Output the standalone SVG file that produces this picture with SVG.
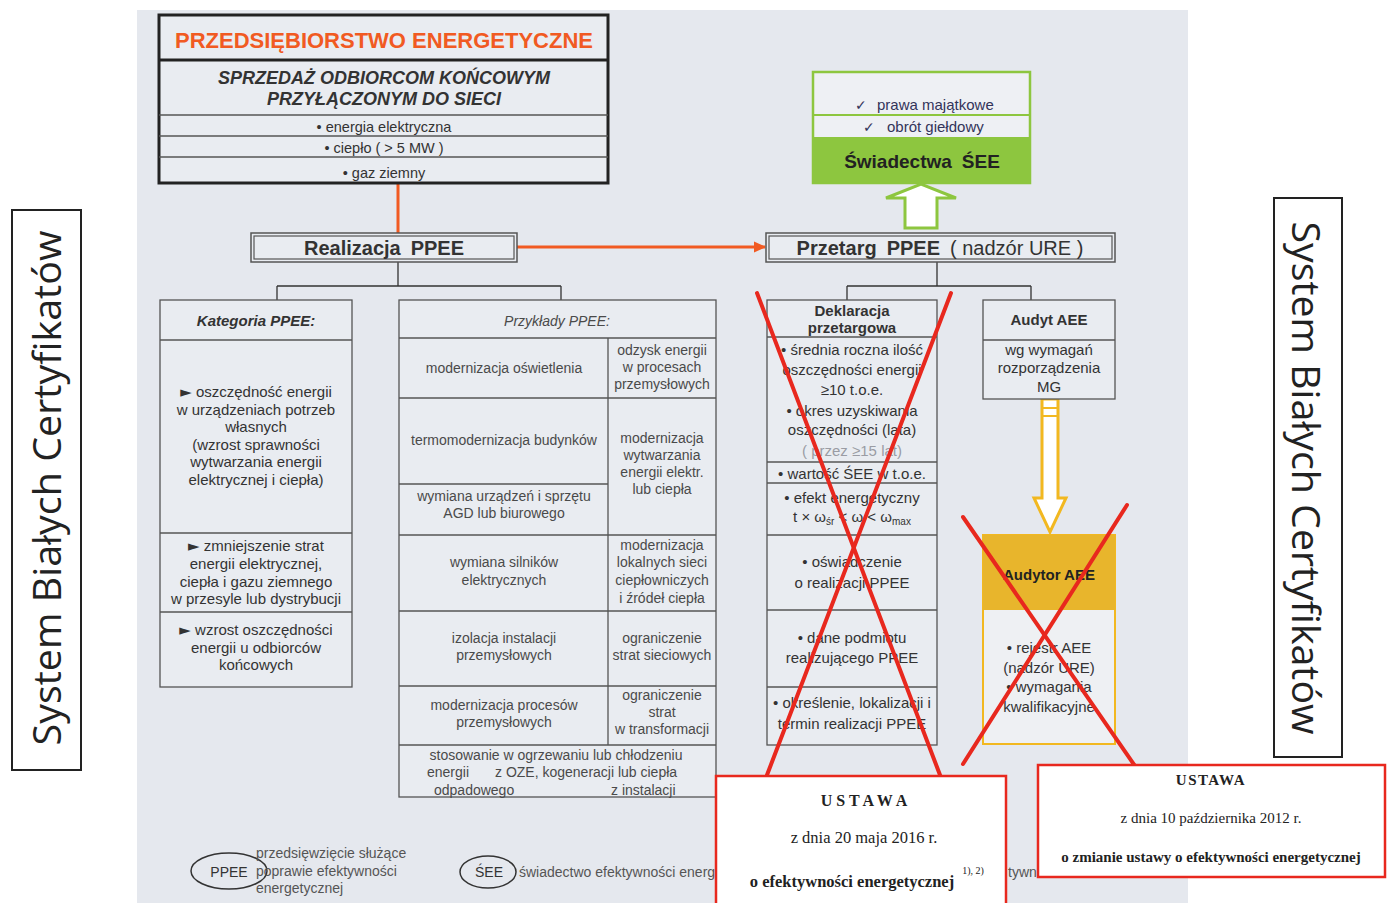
<svg xmlns="http://www.w3.org/2000/svg" width="1387" height="903" viewBox="0 0 1387 903">
<defs>
<style>
.t{font-family:"Liberation Sans",Arial,sans-serif;fill:#333;text-anchor:middle}
.s{font-size:14px;fill:#4a4a4a}
.k{font-size:15px;fill:#333}
.b{font-weight:bold}
.i{font-style:italic}
.cell{fill:#e9ecf1;stroke:#555;stroke-width:1.3}
.ln{stroke:#555;stroke-width:1.3;fill:none}
.tree{stroke:#333;stroke-width:1.3;fill:none}
.serif{font-family:"Liberation Serif","Times New Roman",serif;fill:#222;text-anchor:middle}
.red{stroke:#e8281e;stroke-width:4;stroke-linecap:round;fill:none}
.vert{font-family:"Open Sans","Liberation Sans",sans-serif;font-size:38px;fill:#222;text-anchor:middle}
.law{fill:#fff;stroke:#e8281e;stroke-width:2.5}
.tri{font-family:"DejaVu Sans",sans-serif;font-size:15px}
</style>
<marker id="ah" markerWidth="12" markerHeight="12" refX="11" refY="6" orient="auto" markerUnits="userSpaceOnUse"><path d="M0,0.5 L12,6 L0,11.5 z" fill="#f15a22"/></marker>
</defs>

<rect x="0" y="0" width="1387" height="903" fill="#ffffff"/>
<rect x="137" y="10" width="1051" height="893" fill="#e5e8ee"/>

<g id="label-left">
<rect x="12" y="210" width="69" height="560" fill="#fff" stroke="#222" stroke-width="2"/>
<text class="vert" transform="translate(61,488) rotate(-90)" textLength="515" lengthAdjust="spacingAndGlyphs">System Białych Certyfikatów</text>
</g>
<g id="label-right">
<rect x="1274" y="198" width="68" height="559" fill="#fff" stroke="#222" stroke-width="2"/>
<text class="vert" transform="translate(1292,478) rotate(90)" textLength="513" lengthAdjust="spacingAndGlyphs">System Białych Certyfikatów</text>
</g>

<g id="connectors">
<line x1="398" y1="183" x2="398" y2="233" stroke="#f15a22" stroke-width="3"/>
<line x1="517" y1="247" x2="765" y2="247" stroke="#f15a22" stroke-width="3" marker-end="url(#ah)"/>
<path class="tree" d="M398,262 V286 M277,286 H561 M277,286 V300 M561,286 V300"/>
<path class="tree" d="M937,262 V286 M847,286 H1031 M847,286 V300 M1031,286 V300"/>
<polygon points="905,228 905,198 886,198 921,184 956,198 937,198 937,228" fill="#fff" stroke="#8dc63f" stroke-width="3"/>
<polygon points="1042,399 1058,399 1058,498 1066,498 1050,532 1034,498 1042,498" fill="#fff" stroke="#f2b820" stroke-width="3"/>
<path d="M1042,408 H1058 M1042,416 H1058" stroke="#f2b820" stroke-width="2"/>
</g>

<g id="header">
<rect x="159" y="15" width="449" height="168" fill="#e9ecf1" stroke="#222" stroke-width="3"/>
<line x1="159" y1="60" x2="608" y2="60" stroke="#222" stroke-width="3"/>
<path class="ln" d="M159,115 H608 M159,136 H608 M159,157 H608" stroke="#333"/>
<text class="t b" x="384" y="48" font-size="22" style="fill:#f15a22">PRZEDSIĘBIORSTWO  ENERGETYCZNE</text>
<text class="t b i" x="384" y="84" font-size="18">SPRZEDAŻ ODBIORCOM KOŃCOWYM</text>
<text class="t b i" x="384" y="105" font-size="18">PRZYŁĄCZONYM DO SIECI</text>
<text class="t" x="384" y="132" font-size="14.5">• energia elektryczna</text>
<text class="t" x="384" y="153" font-size="14.5">• ciepło ( &gt; 5 MW )</text>
<text class="t" x="384" y="178" font-size="14.5">• gaz ziemny</text>
</g>

<g id="realizacja">
<rect x="251" y="233" width="266" height="29" fill="#e9ecf1" stroke="#555" stroke-width="1.5"/>
<rect x="254" y="236" width="260" height="23" fill="none" stroke="#555" stroke-width="1.2"/>
<text class="t b" x="384" y="255" font-size="20">Realizacja<tspan dx="10">PPEE</tspan></text>
</g>

<g id="przetarg">
<rect x="766" y="233" width="349" height="29" fill="#e9ecf1" stroke="#555" stroke-width="1.5"/>
<rect x="769" y="236" width="343" height="23" fill="none" stroke="#555" stroke-width="1.2"/>
<text class="t" x="940" y="255" font-size="20"><tspan font-weight="bold">Przetarg</tspan><tspan dx="10" font-weight="bold">PPEE</tspan><tspan dx="10">( nadzór URE )</tspan></text>
</g>

<g id="swiadectwa">
<rect x="813" y="72" width="217" height="111" fill="#eef0f4" stroke="#8dc63f" stroke-width="2.5"/>
<line x1="813" y1="115" x2="1030" y2="115" stroke="#8dc63f" stroke-width="2"/>
<rect x="813" y="137" width="217" height="46" fill="#8dc63f"/>
<text class="t" x="855" y="110" font-size="15" style="text-anchor:start;fill:#33345a"><tspan font-family="DejaVu Sans" font-size="14">✓</tspan><tspan x="877">prawa majątkowe</tspan></text>
<text class="t" x="863" y="132" font-size="15" style="text-anchor:start;fill:#33345a"><tspan font-family="DejaVu Sans" font-size="14">✓</tspan><tspan x="887">obrót giełdowy</tspan></text>
<text class="t b" x="922" y="168" font-size="19" style="fill:#222">Świadectwa<tspan dx="10">ŚEE</tspan></text>
</g>

<g id="kategoria">
<rect class="cell" x="160" y="300" width="192" height="387"/>
<path class="ln" d="M160,340 H352 M160,533 H352 M160,612 H352"/>
<text class="t b i" x="256" y="326" font-size="15">Kategoria PPEE:</text>
<text class="t k" x="256" y="397"><tspan class="tri">►</tspan> oszczędność energii</text>
<text class="t k" x="256" y="415">w urządzeniach potrzeb</text>
<text class="t k" x="256" y="432">własnych</text>
<text class="t k" x="256" y="450">(wzrost sprawności</text>
<text class="t k" x="256" y="467">wytwarzania energii</text>
<text class="t k" x="256" y="485">elektrycznej i ciepła)</text>
<text class="t k" x="256" y="551"><tspan class="tri">►</tspan> zmniejszenie strat</text>
<text class="t k" x="256" y="569">energii elektrycznej,</text>
<text class="t k" x="256" y="587">ciepła i gazu ziemnego</text>
<text class="t k" x="256" y="604">w przesyle lub dystrybucji</text>
<text class="t k" x="256" y="635"><tspan class="tri">►</tspan> wzrost oszczędności</text>
<text class="t k" x="256" y="653">energii  u odbiorców</text>
<text class="t k" x="256" y="670">końcowych</text>
</g>

<g id="przyklady">
<rect class="cell" x="399" y="300" width="317" height="497"/>
<path class="ln" d="M399,338 H716 M608,338 V745 M399,398 H716 M399,484 H608 M399,535 H716 M399,611 H716 M399,686 H716 M399,745 H716"/>
<text class="t i s" x="557" y="326">Przykłady PPEE:</text>
<text class="t s" x="504" y="373">modernizacja oświetlenia</text>
<text class="t s" x="662" y="355">odzysk energii</text>
<text class="t s" x="662" y="372">w procesach</text>
<text class="t s" x="662" y="389">przemysłowych</text>
<text class="t s" x="504" y="445">termomodernizacja budynków</text>
<text class="t s" x="504" y="501">wymiana urządzeń i sprzętu</text>
<text class="t s" x="504" y="518">AGD lub biurowego</text>
<text class="t s" x="662" y="443">modernizacja</text>
<text class="t s" x="662" y="460">wytwarzania</text>
<text class="t s" x="662" y="477">energii elektr.</text>
<text class="t s" x="662" y="494">lub ciepła</text>
<text class="t s" x="504" y="567">wymiana silników</text>
<text class="t s" x="504" y="585">elektrycznych</text>
<text class="t s" x="662" y="550">modernizacja</text>
<text class="t s" x="662" y="567">lokalnych sieci</text>
<text class="t s" x="662" y="585">ciepłowniczych</text>
<text class="t s" x="662" y="603">i źródeł ciepła</text>
<text class="t s" x="504" y="643">izolacja instalacji</text>
<text class="t s" x="504" y="660">przemysłowych</text>
<text class="t s" x="662" y="643">ograniczenie</text>
<text class="t s" x="662" y="660">strat sieciowych</text>
<text class="t s" x="504" y="710">modernizacja procesów</text>
<text class="t s" x="504" y="727">przemysłowych</text>
<text class="t s" x="662" y="700">ograniczenie</text>
<text class="t s" x="662" y="717">strat</text>
<text class="t s" x="662" y="734">w transformacji</text>
<text class="t s" x="556" y="760">stosowanie w ogrzewaniu lub chłodzeniu</text>
<text class="t s" x="427" y="777" style="text-anchor:start">energii</text>
<text class="t s" x="495" y="777" style="text-anchor:start">z OZE, kogeneracji lub ciepła</text>
<text class="t s" x="434" y="795" style="text-anchor:start">odpadowego</text>
<text class="t s" x="611" y="795" style="text-anchor:start">z instalacji</text>
</g>

<g id="deklaracja">
<rect class="cell" x="767" y="300" width="170" height="445"/>
<path class="ln" d="M767,337 H937 M767,462 H937 M767,483 H937 M767,535 H937 M767,610 H937 M767,687 H937"/>
<text class="t b" x="852" y="316" font-size="15">Deklaracja</text>
<text class="t b" x="852" y="333" font-size="15">przetargowa</text>
<text class="t k" x="852" y="355">• średnia roczna ilość</text>
<text class="t k" x="852" y="375">oszczędności energii</text>
<text class="t k" x="852" y="395">≥10 t.o.e.</text>
<text class="t k" x="852" y="416">• okres uzyskiwania</text>
<text class="t k" x="852" y="435">oszczędności (lata)</text>
<text class="t k" x="852" y="456" style="fill:#9a9ca4">( przez ≥15 lat)</text>
<text class="t k" x="852" y="479">• wartość ŚEE w  t.o.e.</text>
<text class="t k" x="852" y="503">• efekt energetyczny</text>
<text class="t k" x="852" y="522" font-size="14">t × ω<tspan font-size="10" dy="3">śr</tspan><tspan dy="-3"> &lt; ω &lt; ω</tspan><tspan font-size="10" dy="3">max</tspan></text>
<text class="t k" x="852" y="567">• oświadczenie</text>
<text class="t k" x="852" y="588">o realizacji PPEE</text>
<text class="t k" x="852" y="643">• dane podmiotu</text>
<text class="t k" x="852" y="663">realizującego PPEE</text>
<text class="t k" x="852" y="708">• określenie, lokalizacji i</text>
<text class="t k" x="852" y="729">termin realizacji PPEE</text>
</g>

<g id="audyt">
<rect class="cell" x="983" y="300" width="132" height="99"/>
<line class="ln" x1="983" y1="340" x2="1115" y2="340"/>
<text class="t b" x="1049" y="325" font-size="15">Audyt AEE</text>
<text class="t k" x="1049" y="355">wg wymagań</text>
<text class="t k" x="1049" y="373">rozporządzenia</text>
<text class="t k" x="1049" y="392">MG</text>
</g>

<g id="audytor">
<rect x="983" y="535" width="132" height="209" fill="#eef0f3" stroke="#f2b820" stroke-width="2"/>
<rect x="983" y="535" width="132" height="75" fill="#e8b52c"/>
<text class="t b" x="1049" y="580" font-size="15" style="fill:#222">Audytor  AEE</text>
<text class="t k" x="1049" y="653">• rejestr AEE</text>
<text class="t k" x="1049" y="673">(nadzór URE)</text>
<text class="t k" x="1049" y="692">• wymagania</text>
<text class="t k" x="1049" y="712">kwalifikacyjne</text>
</g>

<g id="legend">
<ellipse cx="229" cy="871" rx="38" ry="18" fill="none" stroke="#333" stroke-width="1.5"/>
<text class="t" x="229" y="877" font-size="14">PPEE</text>
<text class="t" x="256" y="858" font-size="14" style="text-anchor:start;fill:#555">przedsięwzięcie służące</text>
<text class="t" x="256" y="876" font-size="14" style="text-anchor:start;fill:#555">poprawie efektywności</text>
<text class="t" x="256" y="893" font-size="14" style="text-anchor:start;fill:#555">energetycznej</text>
<ellipse cx="488" cy="872" rx="28" ry="16" fill="none" stroke="#333" stroke-width="1.5"/>
<text class="t" x="489" y="877" font-size="14">ŚEE</text>
<text class="t" x="519" y="877" font-size="14" style="text-anchor:start;fill:#555">świadectwo efektywności energetycznej</text>
<text class="t" x="1008" y="877" font-size="14" style="text-anchor:start;fill:#555">tywn</text>
</g>

<g id="cross-out">
<line class="red" x1="757" y1="293" x2="940" y2="775"/>
<line class="red" x1="951" y1="293" x2="767" y2="775"/>
<line class="red" x1="963" y1="517" x2="1135" y2="766"/>
<line class="red" x1="1127" y1="505" x2="963" y2="764"/>
</g>

<g id="ustawa-2016">
<rect class="law" x="716" y="776" width="290" height="140"/>
<text class="serif" x="864" y="806" font-size="16" font-weight="bold">U S T A W A</text>
<text class="serif" x="864" y="843" font-size="16.5">z dnia 20 maja 2016 r.</text>
<text class="serif" x="852" y="887" font-size="16.5" font-weight="bold">o efektywności energetycznej</text>
<text class="serif" x="973" y="874" font-size="10">1), 2)</text>
</g>

<g id="ustawa-2012">
<rect class="law" x="1038" y="765" width="347" height="112"/>
<text class="serif" x="1211" y="785" font-size="15" font-weight="bold" letter-spacing="1.5">USTAWA</text>
<text class="serif" x="1211" y="823" font-size="15">z dnia 10 października 2012 r.</text>
<text class="serif" x="1211" y="862" font-size="15" font-weight="bold">o zmianie ustawy o efektywności energetycznej</text>
</g>
</svg>
